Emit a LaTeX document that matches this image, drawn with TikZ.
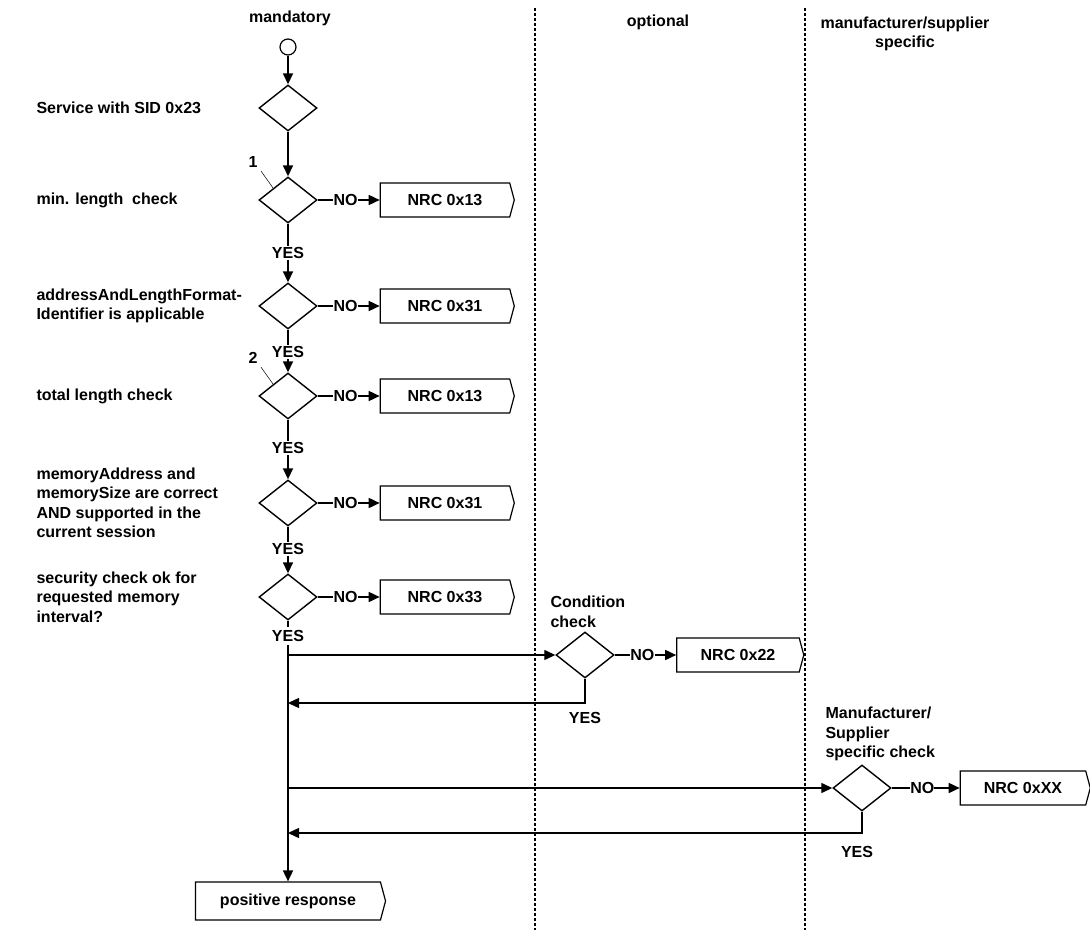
\documentclass[tikz,border=0pt]{standalone}
\usepackage{fontspec}
\setmainfont{Liberation Sans}
\usetikzlibrary{shapes.geometric,shapes.symbols,arrows.meta,calc}
\begin{document}
\begin{tikzpicture}[x=1pt,y=-1pt,font=\bfseries\fontsize{16}{19.5}\selectfont,
  dia/.style={draw,line width=1.4pt,diamond,minimum width=58pt,minimum height=46pt,inner sep=0pt},
  nrc/.style={draw,line width=1.2pt,signal,signal to=east,signal pointer angle=150,minimum width=134pt,minimum height=34pt,inner sep=0pt},
  ln/.style={line width=1.7pt},
  arr/.style={ln,-{Triangle[length=11pt,width=10pt]}},
  lab/.style={align=left,anchor=west},
  sep/.style={line width=1.5pt,dash pattern=on 3pt off 2pt}]
\useasboundingbox (0,0) rectangle (1090,936);
\draw[sep] (535,8) -- (535,930);
\draw[sep] (805,8) -- (805,930);
\node (hm) at (290,18) {mandatory};
\node (ho) at (658,22) {optional};
\node[align=center] (hs) at (905,34) {manufacturer/supplier\\specific};
\node[draw,circle,line width=1.2pt,minimum size=16pt,inner sep=0pt] (st) at (288,47) {};
\node[dia] (d0) at (288,108) {};
\node[dia] (d1) at (288,200) {};
\node[dia] (d2) at (288,306) {};
\node[dia] (d3) at (288,396) {};
\node[dia] (d4) at (288,503) {};
\node[dia] (d5) at (288,597) {};
\node[dia] (dc) at (585,655) {};
\node[dia] (dm) at (862,788) {};
\node[lab] (t0) at (33,108) {Service with SID 0x23};
\node[lab] (t1) at (33,200) {min. length\ \ check};
\node[lab] (t2) at (33,306) {addressAndLengthFormat-\\Identifier is applicable};
\node[lab] (t3) at (33,396) {total length check};
\node[lab] (t4) at (33,503) {memoryAddress and\\memorySize are correct\\AND supported in the\\current session};
\node[lab] (t5) at (33,597) {security check ok for\\requested memory\\interval?};
\node[lab] (tc) at (547,612) {Condition\\check};
\node[lab] (tm) at (822,734) {Manufacturer/\\Supplier\\specific check};
\foreach \n/\y/\t in {n1/200/0x13,n2/306/0x31,n3/396/0x13,n4/503/0x31,n5/597/0x33}
  \node[nrc] (\n) at (445,\y) {NRC \t};
\node[nrc,minimum width=127pt] (nc) at (738,655) {NRC 0x22};
\node[nrc,minimum width=130pt] (nm) at (1023,788) {NRC 0xXX};
\node[nrc,minimum width=190pt,minimum height=38pt] (pr) at (288,901) {positive response};
\draw[arr] (st) -- (d0);
\draw[arr] (d0) -- (d1);
\foreach \a/\b/\y in {d1/d2/253,d2/d3/352,d3/d4/448,d4/d5/549}{
  \node[fill=white,inner sep=1pt] (y\a) at (288,\y) {YES};
  \draw[ln] (\a) -- (y\a);
  \draw[arr] (y\a) -- (\b);
}
\node (y5) at (288,636) {YES};
\draw[ln] (d5) -- (y5);
\coordinate (b1) at (288,655);
\coordinate (b2) at (288,703);
\coordinate (b3) at (288,788);
\coordinate (b4) at (288,833);
\draw[ln] (y5) -- (b1);
\draw[arr] (b1) -- (pr);
\foreach \d/\n in {d1/n1,d2/n2,d3/n3,d4/n4,d5/n5,dc/nc,dm/nm}{
  \node[inner sep=0pt] (no\n) at ($(\d.east)!0.45!(\n.west)$) {NO};
}
\foreach \d/\n in {d1/n1,d2/n2,d3/n3,d4/n4,d5/n5,dc/nc,dm/nm}{
  \draw[ln] (\d.east) -- (no\n.west);
  \draw[arr] (no\n.east) -- (\n.west);
}
\draw[arr,line width=1.3pt] (b1) -- (dc.west);
\draw[arr,line width=1.3pt] (dc.south) |- (b2);
\node (yc) at (585,718) {YES};
\draw[arr,line width=1.3pt] (b3) -- (dm.west);
\draw[arr,line width=1.3pt] (dm.south) |- (b4);
\node (ym) at (857,852) {YES};
\node (l1) at (253,162) {1};
\node (l2) at (253,358) {2};
\draw[line width=0.5pt] (l1.south east) -- ($(d1.north)!0.5!(d1.west)$);
\draw[line width=0.5pt] (l2.south east) -- ($(d3.north)!0.5!(d3.west)$);
\end{tikzpicture}
\end{document}
